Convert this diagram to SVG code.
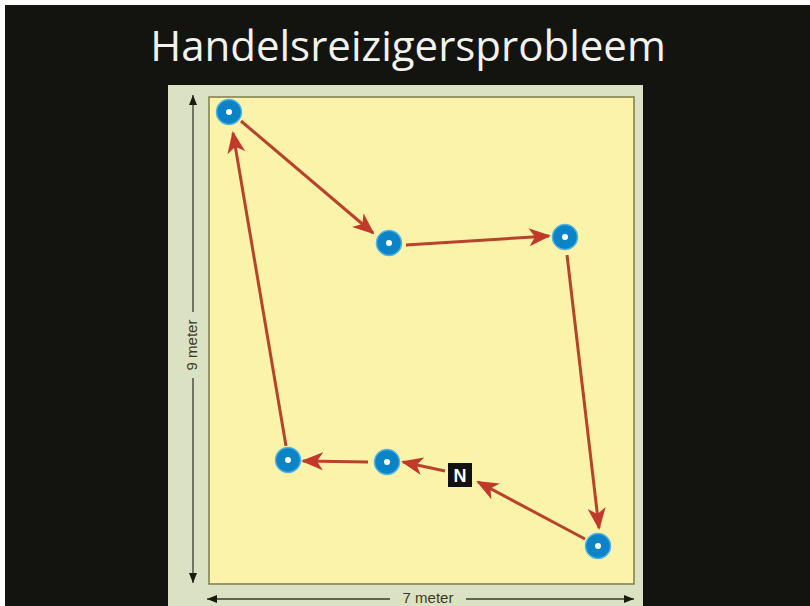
<svg xmlns="http://www.w3.org/2000/svg" width="810" height="606" viewBox="0 0 810 606">
<style>
.edge{stroke:#b8432b;stroke-width:3;fill:none;marker-end:url(#ah)}
.node{fill:#0a84c6;stroke:#4fb3e3;stroke-width:1.5}
.dot{fill:#ffffff}
.dim{stroke:#3a3a2a;stroke-width:1.3;fill:none}
.dimtxt{font-family:"Liberation Sans",Arial,sans-serif;font-size:15px;fill:#3a3a2a}
</style>
<defs>
<marker id="ah" viewBox="0 0 22 18" refX="20" refY="9" markerWidth="22" markerHeight="18" markerUnits="userSpaceOnUse" orient="auto">
<path d="M0,0 L22,9 L0,18 L6,9 Z" fill="#c0392b"/>
</marker>
<marker id="dh" viewBox="0 0 10 8" refX="10" refY="4" markerWidth="10" markerHeight="8" markerUnits="userSpaceOnUse" orient="auto">
<path d="M0,0 L10,4 L0,8 Z" fill="#1a1a10"/>
</marker>
</defs>
<rect x="0" y="0" width="810" height="606" fill="#ffffff"/>
<rect x="5" y="5" width="805" height="601" fill="#13130f"/>
<text x="408" y="61" text-anchor="middle" font-family="'Open Sans','Noto Sans',sans-serif" font-size="42" fill="#f2f2ee">Handelsreizigersprobleem</text>
<rect x="168" y="85" width="475" height="525" fill="#dbe2c4"/>
<rect x="209" y="97" width="425" height="487" fill="#fbf3aa" stroke="#7d7d48" stroke-width="1.5"/>
<g id="dimensions">
<line class="dim" x1="193" y1="350" x2="193" y2="95" marker-end="url(#dh)"/>
<line class="dim" x1="193" y1="350" x2="193" y2="583" marker-end="url(#dh)"/>
<rect x="182" y="312" width="20" height="66" fill="#dbe2c4"/>
<text class="dimtxt" transform="translate(197,345) rotate(-90)" text-anchor="middle">9 meter</text>
<line class="dim" x1="420" y1="599" x2="207" y2="599" marker-end="url(#dh)"/>
<line class="dim" x1="420" y1="599" x2="634" y2="599" marker-end="url(#dh)"/>
<rect x="390" y="590" width="76" height="16" fill="#dbe2c4"/>
<text class="dimtxt" x="428" y="603" text-anchor="middle">7 meter</text>
</g>
<g id="connectors">
<line class="edge" x1="241" y1="121" x2="373" y2="233"/>
<line class="edge" x1="406" y1="245" x2="549" y2="236"/>
<line class="edge" x1="567" y1="255" x2="599" y2="528"/>
<line class="edge" x1="585" y1="539" x2="478" y2="482"/>
<line class="edge" x1="445" y1="471" x2="403" y2="462"/>
<line class="edge" x1="368" y1="462" x2="303" y2="461"/>
<line class="edge" x1="286" y1="446" x2="233" y2="133"/>
</g>
<g id="n1"><circle class="node" cx="229" cy="112" r="12.5"/><circle class="dot" cx="229" cy="112" r="3"/></g>
<g id="n2"><circle class="node" cx="389" cy="243" r="12.5"/><circle class="dot" cx="389" cy="243" r="3"/></g>
<g id="n3"><circle class="node" cx="565" cy="237" r="12.5"/><circle class="dot" cx="565" cy="237" r="3"/></g>
<g id="n4"><circle class="node" cx="598" cy="546" r="12.5"/><circle class="dot" cx="598" cy="546" r="3"/></g>
<g id="nN"><rect x="448" y="463" width="24" height="24" fill="#111111"/><text x="460" y="482" text-anchor="middle" font-family="'Liberation Sans',Arial,sans-serif" font-weight="bold" font-size="18" fill="#ffffff">N</text></g>
<g id="n6"><circle class="node" cx="387" cy="462" r="12.5"/><circle class="dot" cx="387" cy="462" r="3"/></g>
<g id="n7"><circle class="node" cx="288" cy="460" r="12.5"/><circle class="dot" cx="288" cy="460" r="3"/></g>
</svg>
